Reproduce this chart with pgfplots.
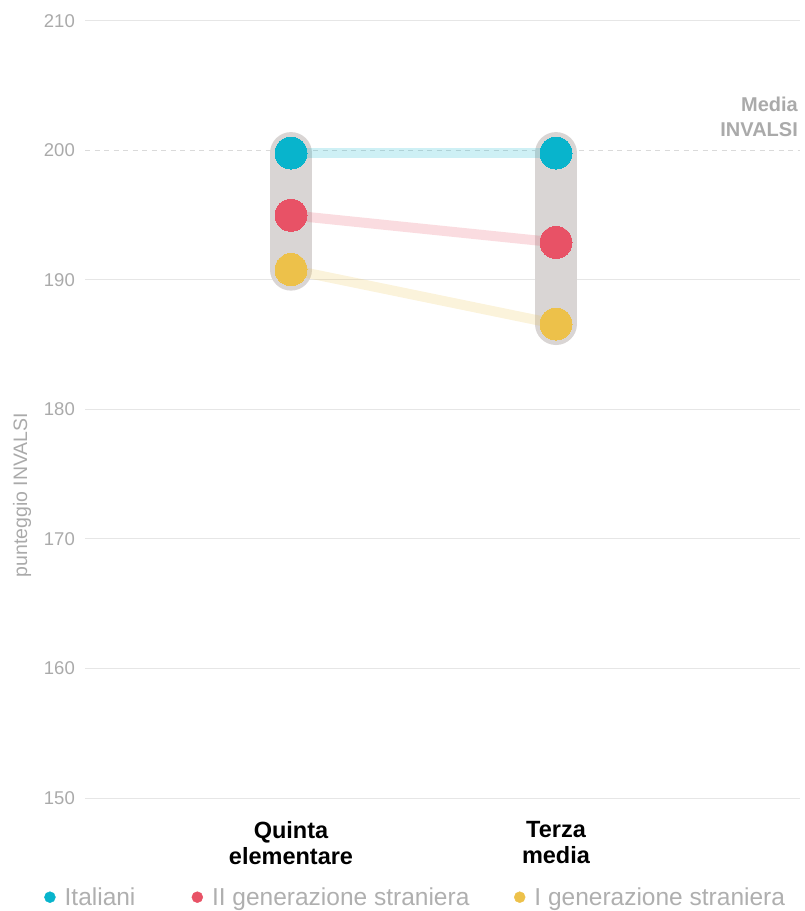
\documentclass[border=0pt]{standalone}
\usepackage{fontspec}
\setmainfont{Liberation Sans}
\usepackage{pgfplots}
\pgfplotsset{compat=1.18}

\definecolor{cItal}{RGB}{8,180,204}
\definecolor{cII}{RGB}{232,82,102}
\definecolor{cI}{RGB}{237,193,74}
\definecolor{capsule}{RGB}{217,213,212}
\definecolor{gridc}{RGB}{230,230,230}
\definecolor{dashc}{RGB}{218,218,218}
\definecolor{txtgray}{RGB}{170,170,170}
\definecolor{legtxt}{RGB}{175,175,175}

\begin{document}
\begin{tikzpicture}
\begin{axis}[
    at={(85pt,113pt)}, anchor=south west,
    scale only axis, width=715pt, height=777pt,
    xmin=-0.7774, xmax=1.9208, ymin=150, ymax=210,
    clip=false,
    axis line style={draw=none},
    major tick length=0pt,
    /pgf/number format/assume math mode=true,
    xtick={0,1},
    xticklabels={Quinta\\elementare, Terza\\media},
    xticklabel style={align=center, font=\fontsize{23.5}{26}\selectfont\bfseries,
        text=black, inner sep=0pt, anchor=north, yshift=-23pt},
    ytick={150,160,170,180,190,210},
    extra y ticks={200},
    extra y tick style={major grid style={dashc, line width=1pt, dash pattern=on 5pt off 4.5pt}},
    yticklabel style={font=\fontsize{18.5}{20}\selectfont, text=txtgray,
        anchor=east, inner sep=0pt, xshift=-10pt},
    ymajorgrids,
    major grid style={gridc, line width=1pt},
    ylabel={punteggio INVALSI},
    ylabel style={at={(rel axis cs:-0.088,0.39)}, anchor=center,
        font=\fontsize{19.5}{20}\selectfont, text=txtgray},
    legend columns=3,
    legend style={at={(rel axis cs:-0.0573,-0.115)}, anchor=north west,
        draw=none, fill=none, inner sep=0pt,
        nodes={inner sep=0pt},
        font=\fontsize{24.5}{26}\selectfont, text=legtxt,
        /tikz/every odd column/.append style={column sep=9pt},
        /tikz/every even column/.append style={column sep=0pt}},
]
% capsule grigie
\addplot[forget plot, capsule, line width=42pt, line cap=round] coordinates {(0,199.8) (0,190.8)};
\addplot[forget plot, capsule, line width=42pt, line cap=round] coordinates {(1,199.8) (1,186.6)};
% linee di collegamento
\addplot[forget plot, cItal, opacity=0.2, line width=10pt] coordinates {(0,199.8) (1,199.8)};
\addplot[forget plot, cII, opacity=0.2, line width=10pt] coordinates {(0,195.0) (1,192.9)};
\addplot[forget plot, cI, opacity=0.2, line width=10pt] coordinates {(0,190.8) (1,186.6)};
% punti
\addplot[forget plot, cItal, only marks, mark=*, mark size=16pt, mark options={draw=cItal, fill=cItal, line width=0pt}] coordinates {(0,199.8) (1,199.8)};
\addplot[forget plot, cII, only marks, mark=*, mark size=16pt, mark options={draw=cII, fill=cII, line width=0pt}] coordinates {(0,195.0) (1,192.9)};
\addplot[forget plot, cI, only marks, mark=*, mark size=16pt, mark options={draw=cI, fill=cI, line width=0pt}] coordinates {(0,190.8) (1,186.6)};

\node[anchor=south east, align=right, inner sep=0pt, xshift=-2pt, yshift=14pt,
    font=\fontsize{20}{25}\selectfont\bfseries, text=txtgray]
    at (axis cs:1.9208,200) {Media\\INVALSI};

\addlegendimage{legend image code/.code={\fill[cItal] (0pt,0pt) circle (5.5pt);}}
\addlegendentry{\makebox[127pt][l]{Italiani}}
\addlegendimage{legend image code/.code={\fill[cII] (0pt,0pt) circle (5.5pt);}}
\addlegendentry{\makebox[302pt][l]{II generazione straniera}}
\addlegendimage{legend image code/.code={\fill[cI] (0pt,0pt) circle (5.5pt);}}
\addlegendentry{I generazione straniera}
\end{axis}
\pgfresetboundingbox
\path (0,0) rectangle (804pt,911pt);
\end{tikzpicture}
\end{document}
